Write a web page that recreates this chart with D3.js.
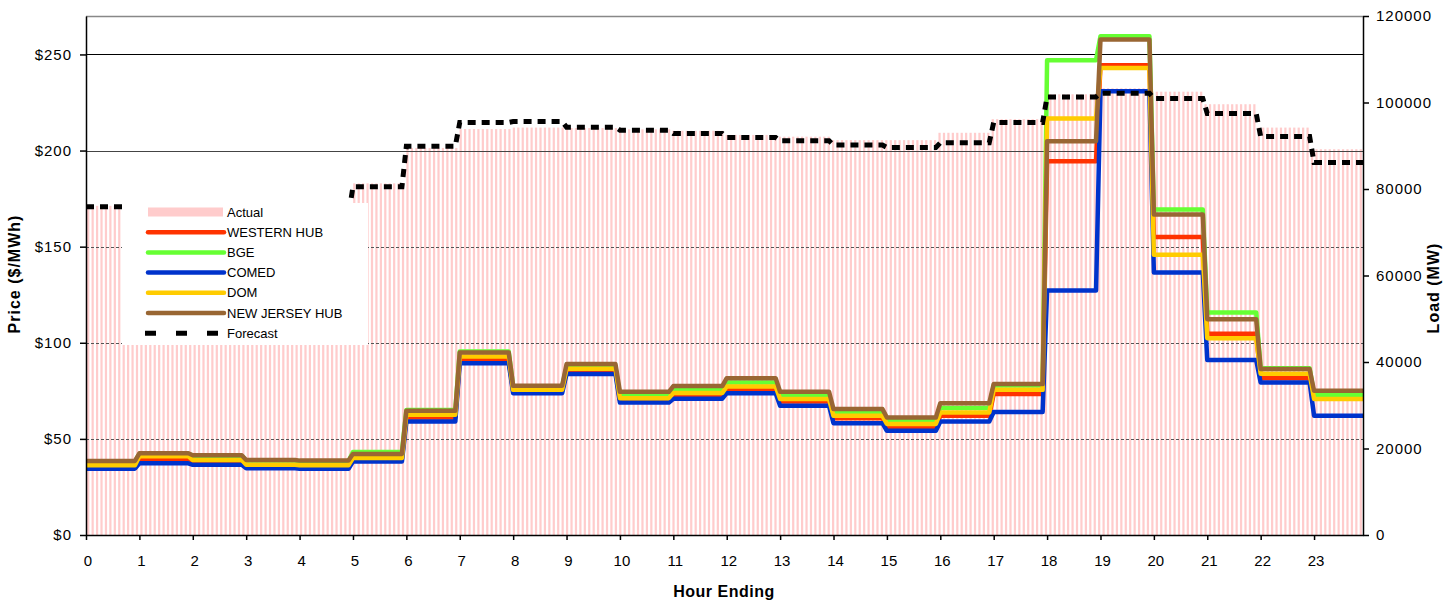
<!DOCTYPE html>
<html>
<head>
<meta charset="utf-8">
<script src="https://cdn.jsdelivr.net/npm/d3@7"></script>
<style>
  body { margin: 0; background: #fff; }
  svg text { font-family: "Liberation Sans", Arial, sans-serif; }
</style>
</head>
<body>
<div id="main"></div>
<script>
const ctx = {
    w: 1448,
    h: 602,
    left: 86,
    right: 1363,
    top: 16,
    bottom: 535,
    PER_HOUR: 12   // 5-minute slots per hour
};

// hour ending labels on the x axis
const hourLabels = d3.range(0, 24).map(String);

// load in MW, one value per hour
const actualLoad = [76100, 74000, 72000, 71500, 73500, 81300, 89500, 93850, 94200, 94100, 93800, 93460,
                    92500, 92100, 91300, 91300, 93000, 96150, 101900, 103300, 102500, 99600, 94200, 89200];
const forecastLoad = [75900, 74500, 72500, 72000, 74000, 80500, 89900, 95400, 95600, 94300, 93600, 92850,
                      91900, 91150, 90150, 89600, 90700, 95400, 101300, 102150, 100900, 97450, 92150, 86100];

// prices in $/MWh, one value per hour
const westernHub = [36, 39.6, 38.5, 36, 36, 39.5, 61.1, 91.1, 75, 85.5, 70, 72.8,
                    75.9, 69.5, 60.8, 56.1, 62, 73.3, 194.4, 244.4, 155, 104.7, 81.6, 71.5];
const bge = [38.2, 42.2, 41.2, 38.7, 38.4, 43.2, 65, 95.5, 77.3, 87.2, 72.4, 75.5,
             79.3, 72.4, 63.7, 59.4, 66.1, 77.8, 247, 259.5, 169.3, 115.8, 86.8, 72.9];
const comed = [34.5, 37.3, 36.5, 34.7, 34.5, 38.2, 59, 89.4, 73.8, 83.7, 68.9, 70.9,
               73.8, 67.2, 58.2, 54.2, 59, 64, 127.2, 230.9, 136.6, 91, 79.3, 62.1];
const dom = [36.3, 41, 39, 36.6, 36.3, 40, 62.5, 92.9, 75.5, 86.5, 71.2, 73.9,
             77.3, 70.7, 62, 57.8, 63.7, 75.5, 216.7, 243, 145.8, 102.4, 83.9, 70.8];
const newJerseyHub = [38.5, 42.5, 41.5, 39, 38.7, 42.2, 64.6, 95, 77.6, 88.9, 74.5, 77.5,
                      81.6, 74.5, 65.5, 61.1, 68.6, 78.5, 204.9, 257.8, 166.7, 112.3, 86.3, 75];

const seriesNames = ["WESTERN HUB", "BGE", "COMED", "DOM", "NEW JERSEY HUB"];
const seriesColors = ["#ff3300", "#66ff33", "#0033cc", "#ffcc00", "#996633"];

const priceTicks = [0, 50, 100, 150, 200, 250];
const loadTicks = [0, 20000, 40000, 60000, 80000, 100000, 120000];

function drawChart(rootG) {
    const slots = d3.range(hourLabels.length * ctx.PER_HOUR);
    const hourOf = i => Math.floor(i / ctx.PER_HOUR);

    const x = d3.scaleLinear()
        .domain([0, slots.length - 1])
        .range([ctx.left, ctx.right]);
    // the load columns sit on their own band axis
    const xBar = d3.scaleBand()
        .domain(slots)
        .range([ctx.left, ctx.right])
        .paddingInner(0.5)
        .paddingOuter(0.25);
    const yPrice = d3.scaleLinear().domain([0, 270]).range([ctx.bottom, ctx.top]);
    const yLoad = d3.scaleLinear().domain([0, 120000]).range([ctx.bottom, ctx.top]);

    // actual load columns
    rootG.append("g")
        .selectAll("rect")
        .data(slots)
        .enter().append("rect")
        .attr("x", i => xBar(i))
        .attr("width", xBar.bandwidth())
        .attr("y", i => yLoad(actualLoad[hourOf(i)]))
        .attr("height", i => ctx.bottom - yLoad(actualLoad[hourOf(i)]))
        .attr("fill", "#ffcccc");

    // gridlines
    rootG.append("g")
        .selectAll("line")
        .data(priceTicks.filter(d => d > 0))
        .enter().append("line")
        .attr("x1", ctx.left).attr("x2", ctx.right)
        .attr("y1", d => Math.round(yPrice(d)) + 0.5)
        .attr("y2", d => Math.round(yPrice(d)) + 0.5)
        .attr("stroke", d => d >= 250 ? "#000" : (d >= 200 ? "#444" : "#555"))
        .attr("stroke-dasharray", d => d >= 200 ? null : "3,2");

    // top border
    rootG.append("line")
        .attr("x1", ctx.left).attr("x2", ctx.right)
        .attr("y1", ctx.top + 0.5).attr("y2", ctx.top + 0.5)
        .attr("stroke", "#888").attr("stroke-width", 1.5);

    const priceLine = arr => d3.line()
        .x(i => x(i))
        .y(i => yPrice(arr[hourOf(i)]));

    const allSeries = [westernHub, bge, comed, dom, newJerseyHub];
    allSeries.forEach((arr, k) => {
        rootG.append("path")
            .datum(slots)
            .attr("d", priceLine(arr))
            .attr("fill", "none")
            .attr("stroke", seriesColors[k])
            .attr("stroke-width", 4.5)
            .attr("stroke-linejoin", "round");
    });

    rootG.append("path")
        .datum(slots)
        .attr("d", d3.line().x(i => x(i)).y(i => yLoad(forecastLoad[hourOf(i)])))
        .attr("fill", "none")
        .attr("stroke", "#000")
        .attr("stroke-width", 5)
        .attr("stroke-dasharray", "8,6");

    // axes
    const xAxis = g => g
        .attr("transform", `translate(0,${ctx.bottom})`)
        .call(d3.axisBottom(x)
            .tickValues(slots.filter(i => i % ctx.PER_HOUR === 0))
            .tickFormat(i => hourLabels[hourOf(i)])
            .tickSize(5).tickSizeOuter(0).tickPadding(15));
    const yAxis = g => g
        .attr("transform", `translate(${ctx.left},0)`)
        .call(d3.axisLeft(yPrice)
            .tickValues(priceTicks)
            .tickFormat(d => "$" + d)
            .tickSize(6).tickSizeOuter(0).tickPadding(8));
    const y2Axis = g => g
        .attr("transform", `translate(${ctx.right},0)`)
        .call(d3.axisRight(yLoad)
            .tickValues(loadTicks)
            .tickFormat(d => d)
            .tickSize(6).tickSizeOuter(0).tickPadding(7));

    const gx = rootG.append("g").call(xAxis);
    gx.selectAll("text").attr("dx", "1.5");
    const gy = rootG.append("g").call(yAxis);
    const gy2 = rootG.append("g").call(y2Axis);
    [gx, gy, gy2].forEach(g => {
        g.selectAll("text")
            .attr("fill", "#000")
            .style("font-size", "15px")
            .style("font-family", "'Liberation Sans', Arial, sans-serif");
        g.selectAll("line, path").attr("stroke", "#000").attr("stroke-width", 1.5);
    });
    gy.selectAll("text").style("letter-spacing", "1px");
    gy2.selectAll("text").style("letter-spacing", "1px");

    // axis titles
    rootG.append("text")
        .attr("x", 724).attr("y", 597)
        .attr("text-anchor", "middle")
        .style("font-size", "16px").style("font-weight", "bold")
        .style("letter-spacing", "0.5px")
        .text("Hour Ending");
    rootG.append("text")
        .attr("transform", "translate(20,274) rotate(-90)")
        .attr("text-anchor", "middle")
        .style("font-size", "16px").style("font-weight", "bold")
        .style("letter-spacing", "1px")
        .text("Price ($/MWh)");
    rootG.append("text")
        .attr("transform", "translate(1439,288) rotate(-90)")
        .attr("text-anchor", "middle")
        .style("font-size", "16px").style("font-weight", "bold")
        .style("letter-spacing", "1px")
        .text("Load (MW)");

    // legend
    const legG = rootG.append("g").attr("id", "legend");
    legG.append("rect")
        .attr("x", 122).attr("y", 203)
        .attr("width", 246).attr("height", 142)
        .attr("fill", "#fff");
    const rowY = k => 212 + k * 20.2;
    legG.append("rect")
        .attr("x", 148).attr("y", rowY(0) - 4.5)
        .attr("width", 75).attr("height", 9)
        .attr("fill", "#ffcccc");
    seriesNames.forEach((name, k) => {
        legG.append("line")
            .attr("x1", 148).attr("x2", 224)
            .attr("y1", rowY(k + 1)).attr("y2", rowY(k + 1))
            .attr("stroke", seriesColors[k])
            .attr("stroke-width", 4.5)
            .attr("stroke-linecap", "round");
    });
    legG.append("line")
        .attr("x1", 145).attr("x2", 218)
        .attr("y1", rowY(6)).attr("y2", rowY(6))
        .attr("stroke", "#000")
        .attr("stroke-width", 5)
        .attr("stroke-dasharray", "11,20");
    const legLabels = ["Actual"].concat(seriesNames, ["Forecast"]);
    legG.selectAll("text.leg")
        .data(legLabels)
        .enter().append("text")
        .attr("class", "leg")
        .attr("x", 227)
        .attr("y", (d, k) => rowY(k))
        .attr("dy", "0.36em")
        .style("font-size", "13px")
        .attr("fill", "#000")
        .text(d => d);
}

function createViz() {
    const svgEl = d3.select("#main").append("svg");
    svgEl.attr("width", ctx.w);
    svgEl.attr("height", ctx.h);
    const rootG = svgEl.append("g").attr("id", "rootG");
    drawChart(rootG);
}

createViz();
</script>
</body>
</html>
